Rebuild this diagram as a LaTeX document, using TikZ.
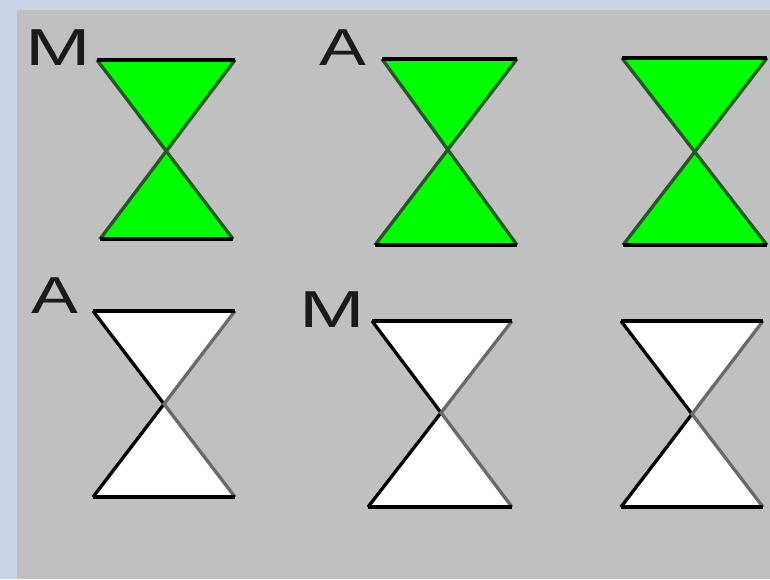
\documentclass[tikz,border=0pt]{standalone}
\usepackage{fontspec}
\setmainfont{Liberation Sans}
\definecolor{bandblue}{HTML}{C9D3E6}
\definecolor{panel}{HTML}{C0C0C0}
\definecolor{lime}{HTML}{00FF00}
\definecolor{darkgreen}{HTML}{1F5A1F}
\definecolor{edgegray}{HTML}{6A6A6A}
\definecolor{ink}{HTML}{1A1A1A}
\newcommand\hglass[9]{%
  \coordinate (X) at (intersection of #4,#6--#8,#9 and #5,#6--#7,#9);
  \fill[#1] (#4,#6) -- (#5,#6) -- (X) -- cycle;
  \fill[#1] (#7,#9) -- (#8,#9) -- (X) -- cycle;
  \draw[edge, #2] (#4,#6) -- (X) -- (#7,#9);
  \draw[edge, #3] (#5,#6) -- (X) -- (#8,#9);
  \draw[edge, black] (#4,#6) -- (#5,#6);
  \draw[edge, black] (#7,#9) -- (#8,#9);
}
\tikzset{
  edge/.style={line width=3.3pt, line cap=butt, line join=miter},
  lbl/.style={inner sep=0pt, anchor=base west, text=ink, xscale=1.35,
    font=\fontsize{52}{52}\selectfont},
  lblm/.style={lbl, xscale=1.12}
}
\begin{document}
\begin{tikzpicture}[x=1pt,y=-1pt]
\useasboundingbox (0,0) rectangle (770,579);
\fill[bandblue] (0,0) rectangle (770,579);
\fill[panel] (17,10) rectangle (770,579);
% top row (green)
\hglass{lime}{darkgreen}{darkgreen}{97}{235}{60}{100}{233}{239}
\hglass{lime}{darkgreen}{darkgreen}{382}{517}{59}{375}{517}{245}
\hglass{lime}{darkgreen}{darkgreen}{622}{767}{58}{623}{767}{245}
% bottom row (white)
\hglass{white}{black}{edgegray}{93}{235}{311}{93}{235}{497}
\hglass{white}{black}{edgegray}{372}{512}{321}{368}{512}{507}
\hglass{white}{black}{edgegray}{621}{763}{321}{621}{763}{507}
% labels
\node[lblm] (m1) at (25,65) {M};
\node[lbl] (a2) at (319,65) {A};
\node[lbl] (a4) at (31,313) {A};
\node[lblm] (m5) at (299,327) {M};
\end{tikzpicture}
\end{document}
